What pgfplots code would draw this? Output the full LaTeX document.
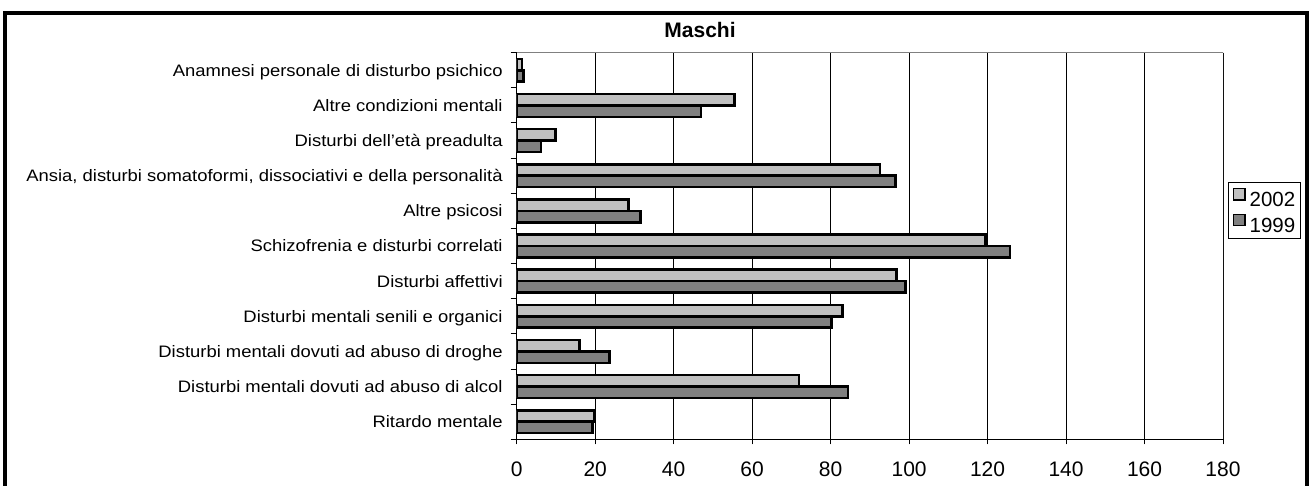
\documentclass[border=0pt]{standalone}
\usepackage{pgfplots}
\pgfplotsset{compat=1.18}
\usepackage{fontspec}
\setmainfont{Liberation Sans}
\definecolor{lightbar}{RGB}{192,192,192}
\definecolor{darkbar}{RGB}{128,128,128}
\begin{document}
\begin{tikzpicture}[x=1pt,y=1pt]
\useasboundingbox (0,0) rectangle (1311,485);
\fill[white] (0,0) rectangle (1311,485);
\begin{axis}[
  at={(516.7pt,45.7pt)}, anchor=south west,
  scale only axis, width=706.3pt, height=386.6pt,
  xbar, bar width=11.4pt,
  xmin=0, xmax=180, ymin=0.5, ymax=11.5,
  axis x line*=bottom, axis y line*=left,
  axis line style={-, black, line width=1.3pt},
  xtick={0,20,...,180},
  xmajorgrids, grid style={black, line width=0.9pt},
  tick align=outside,
  major tick length=5pt,
  minor tick length=6pt,
  xtick style={black, line width=1pt},
  ytick={1,...,11},
  minor ytick={0.5,1.5,...,11.5},
  every major y tick/.append style={draw=none},
  every minor y tick/.append style={draw=black, line width=1pt},
  yticklabels={{Ritardo mentale},{Disturbi mentali dovuti ad abuso di alcol},{Disturbi mentali dovuti ad abuso di droghe},{Disturbi mentali senili e organici},{Disturbi affettivi},{Schizofrenia e disturbi correlati},{Altre psicosi},{Ansia, disturbi somatoformi, dissociativi e della personalità},{Disturbi dell'età preadulta},{Altre condizioni mentali},{Anamnesi personale di disturbo psichico}},
  yticklabel style={font=\fontsize{16.6}{19}\selectfont, xscale=1.11, anchor=base east, inner sep=0pt, xshift=-8pt, yshift=-5.9pt},
  xticklabel style={font=\fontsize{21}{24}\selectfont, inner sep=0pt, anchor=north, yshift=-17pt},
  /pgf/number format/assume math mode=true,
  legend style={at={(1.0075,0.665)}, anchor=north west, draw=black, line width=1pt, fill=white,
    font=\fontsize{20.5}{24}\selectfont, inner xsep=4pt, inner ysep=5pt, row sep=6pt, column sep=3pt,
    nodes={inner xsep=1pt, inner ysep=1pt, text height=14.5pt, text depth=0pt}},
  legend cell align=left,
  legend image code/.code={\draw[#1, line width=1.3pt] (0pt,-0.5pt) rectangle (11.5pt,11pt);},
]
\addplot[fill=lightbar, draw=black, line width=2.6pt, bar shift=5.7pt] coordinates {
  (19.8,1) (71.9,2) (16.0,3) (83.0,4) (96.8,5) (119.5,6) (28.5,7) (92.6,8) (9.9,9) (55.5,10) (1.3,11)};
\addlegendentry{2002}
\addplot[fill=darkbar, draw=black, line width=2.6pt, bar shift=-5.7pt] coordinates {
  (19.3,1) (84.4,2) (23.7,3) (80.2,4) (99.1,5) (125.7,6) (31.5,7) (96.6,8) (6.2,9) (47.0,10) (1.7,11)};
\addlegendentry{1999}
\draw[gray, line width=1pt] (rel axis cs:0,1) -- (rel axis cs:1,1) -- (rel axis cs:1,0);
\end{axis}
\node[anchor=base, font=\fontsize{21}{24}\selectfont\bfseries] at (700,447.3) {Maschi};
\draw[black, line width=4pt] (5,-20) -- (5,472) -- (1307,472) -- (1307,-20);
\end{tikzpicture}
\end{document}
